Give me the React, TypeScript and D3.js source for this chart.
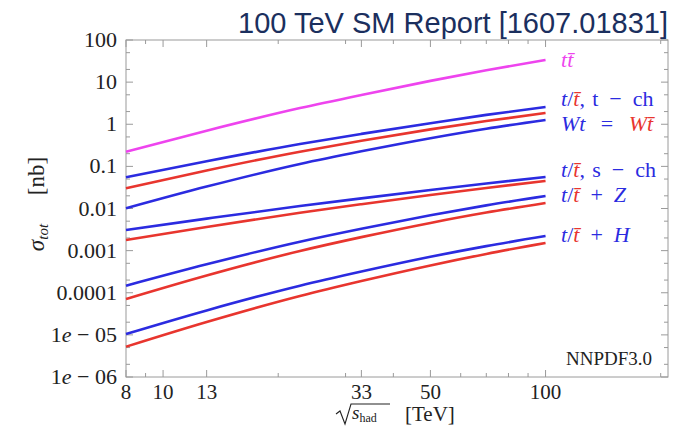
import React from 'react';
import * as d3 from 'd3';

const energies = [8, 13, 22.8, 33, 50, 70, 100];
const ttbar = [0.223, 0.703, 2.42, 4.97, 10.7, 19.1, 33.5];
const tChTop = [0.0551, 0.132, 0.34, 0.59, 1.06, 1.67, 2.57];
const tChAnti = [0.0302, 0.0798, 0.223, 0.405, 0.755, 1.19, 1.85];
const wt = [0.0101, 0.0331, 0.114, 0.228, 0.467, 0.784, 1.26];
const sChTop = [0.00309, 0.00575, 0.01146, 0.0174, 0.0275, 0.0392, 0.056];
const sChAnti = [0.00179, 0.00365, 0.00794, 0.01265, 0.0209, 0.0307, 0.045];
const tZTop = [1.47e-4, 4.73e-4, 1.63e-3, 3.31e-3, 6.89e-3, 0.01186, 0.0198];
const tZAnti = [7.11e-5, 2.57e-4, 9.8e-4, 2.09e-3, 4.55e-3, 8.0e-3, 0.01352];
const tHTop = [1.05e-5, 3.81e-5, 1.47e-4, 3.18e-4, 7.13e-4, 1.28e-3, 2.22e-3];
const tHAnti = [5.24e-6, 2.02e-5, 8.37e-5, 1.9e-4, 4.46e-4, 8.36e-4, 1.52e-3];

const xTicksLabeled = [8, 10, 13, 33, 50, 100];
const xTicksMinor = [9, 20, 30, 40, 60, 70, 80, 90, 200];
const yDecades = [100, 10, 1, 0.1, 0.01, 0.001, 0.0001, 1e-5, 1e-6];
const yDecadeLabels = ['100', '10', '1', '0.1', '0.01', '0.001', '0.0001', '1e-05', '1e-06'];

const BLUE = '#2b2be0';
const RED = '#e8352e';
const MAGENTA = '#ee44ee';
const SERIF = '"Liberation Serif", "DejaVu Serif", serif';

const series = [
  { name: 'tt', values: ttbar, color: MAGENTA },
  { name: 'tch-t', values: tChTop, color: BLUE },
  { name: 'tch-tbar', values: tChAnti, color: RED },
  { name: 'wt', values: wt, color: BLUE },
  { name: 'sch-t', values: sChTop, color: BLUE },
  { name: 'sch-tbar', values: sChAnti, color: RED },
  { name: 'tz-t', values: tZTop, color: BLUE },
  { name: 'tz-tbar', values: tZAnti, color: RED },
  { name: 'th-t', values: tHTop, color: BLUE },
  { name: 'th-tbar', values: tHAnti, color: RED },
];

const L = 126, R = 668, T = 40, B = 377;
const EN = '\u2002';
const MED = '\u2002\u2009';

export default function App() {
  const x = d3.scaleLog().domain([8, 209]).range([L, R]);
  const y = d3.scaleLog().domain([1e-6, 100]).range([B, T]);
  const line = d3
    .line<[number, number]>()
    .x((d) => x(d[0]))
    .y((d) => y(d[1]))
    .curve(d3.curveMonotoneX);

  const yMinor: number[] = [];
  yDecades.slice(1).forEach((d) => {
    yMinor.push(d * 2, d * 5);
  });

  const tbar = 't\u0304';

  return (
    <svg width={677} height={430} style={{ position: 'absolute', left: 0, top: 0, background: '#fff' }}>
      <rect x={0} y={0} width={677} height={430} fill="#fff" />
      <text x={668} y={33} textAnchor="end" fontFamily='"Liberation Sans", Arial, sans-serif' fontSize={29} fill="#1b2f5e">
        100 TeV SM Report [1607.01831]
      </text>

      {/* frame */}
      <rect x={L} y={T} width={R - L} height={B - T} fill="none" stroke="#9a9a9a" strokeWidth={1} />

      {/* y ticks */}
      {yDecades.map((d) => (
        <g key={'yd' + d}>
          <line x1={L} x2={L + 7} y1={y(d)} y2={y(d)} stroke="#9a9a9a" />
          <line x1={R} x2={R - 7} y1={y(d)} y2={y(d)} stroke="#9a9a9a" />
        </g>
      ))}
      {yMinor.map((d) => (
        <g key={'ym' + d}>
          <line x1={L} x2={L + 4} y1={y(d)} y2={y(d)} stroke="#9a9a9a" />
          <line x1={R} x2={R - 4} y1={y(d)} y2={y(d)} stroke="#9a9a9a" />
        </g>
      ))}
      {/* x ticks */}
      {xTicksLabeled.map((d) => (
        <g key={'xl' + d}>
          <line x1={x(d)} x2={x(d)} y1={B} y2={B - 7} stroke="#9a9a9a" />
          <line x1={x(d)} x2={x(d)} y1={T} y2={T + 7} stroke="#9a9a9a" />
        </g>
      ))}
      {xTicksMinor.map((d) => (
        <g key={'xm' + d}>
          <line x1={x(d)} x2={x(d)} y1={B} y2={B - 4} stroke="#9a9a9a" />
          <line x1={x(d)} x2={x(d)} y1={T} y2={T + 4} stroke="#9a9a9a" />
        </g>
      ))}

      {/* y tick labels */}
      {yDecades.map((d, i) => {
        const lab = yDecadeLabels[i];
        const yy = y(d) + 7;
        if (lab.includes('e')) {
          const [m, ex] = lab.split('e');
          return (
            <text key={'yl' + d} x={117} y={yy} textAnchor="end" fontFamily={SERIF} fontSize={22} fill="#222">
              {m}
              <tspan fontStyle="italic">e</tspan>
              {' \u2212 ' + ex.replace('-', '')}
            </text>
          );
        }
        return (
          <text key={'yl' + d} x={117} y={yy} textAnchor="end" fontFamily={SERIF} fontSize={22} fill="#222">
            {lab}
          </text>
        );
      })}

      {/* x tick labels */}
      {xTicksLabeled.map((d) => (
        <text key={'xt' + d} x={x(d)} y={399} textAnchor="middle" fontFamily={SERIF} fontSize={21} fill="#222">
          {d}
        </text>
      ))}

      {/* curves */}
      {series.map((s) => (
        <path
          key={s.name}
          d={line(energies.map((e, i) => [e, s.values[i]] as [number, number])) || ''}
          fill="none"
          stroke={s.color}
          strokeWidth={2.6}
        />
      ))}

      {/* labels */}
      <g fontFamily={SERIF} fontSize={22}>
        <text x={561} y={67} fill={MAGENTA} fontStyle="italic">
          t{tbar}
        </text>
        <text x={561} y={106} fill={BLUE}>
          <tspan fontStyle="italic">t</tspan>/<tspan fontStyle="italic" fill={RED}>{tbar}</tspan>,{'\u2004'}t{EN}{'\u2212'}{EN}ch
        </text>
        <text x={561} y={131} fill={BLUE}>
          <tspan fontStyle="italic">Wt</tspan>{MED}={MED}<tspan fontStyle="italic" fill={RED}>W{tbar}</tspan>
        </text>
        <text x={561} y={177} fill={BLUE}>
          <tspan fontStyle="italic">t</tspan>/<tspan fontStyle="italic" fill={RED}>{tbar}</tspan>,{'\u2004'}s{EN}{'\u2212'}{EN}ch
        </text>
        <text x={561} y={202} fill={BLUE}>
          <tspan fontStyle="italic">t</tspan>/<tspan fontStyle="italic" fill={RED}>{tbar}</tspan>{EN}+{EN}<tspan fontStyle="italic">Z</tspan>
        </text>
        <text x={561} y={242} fill={BLUE}>
          <tspan fontStyle="italic">t</tspan>/<tspan fontStyle="italic" fill={RED}>{tbar}</tspan>{EN}+{EN}<tspan fontStyle="italic">H</tspan>
        </text>
      </g>

      <text x={652} y={365} textAnchor="end" fontFamily={SERIF} fontSize={19} fill="#222">
        NNPDF3.0
      </text>

      {/* y axis title */}
      <g transform="translate(44,204) rotate(-90)">
        <text x={0} y={0} textAnchor="middle" fontFamily={SERIF} fontSize={23} fill="#222">
          <tspan fontStyle="italic">σ</tspan>
          <tspan fontStyle="italic" fontSize={15} dy={4}>tot</tspan>
          <tspan dy={-4}>{'\u2003 [nb]'}</tspan>
        </text>
      </g>

      {/* x axis title */}
      <path d="M336,414 L340,411 L345,424 L351,404 L390,404" fill="none" stroke="#222" strokeWidth={1.1} />
      <text x={352} y={419} fontFamily={SERIF} fontSize={19} fill="#222">
        <tspan fontStyle="italic">s</tspan>
        <tspan fontSize={12} dy={3}>had</tspan>
      </text>
      <text x={405} y={421} fontFamily={SERIF} fontSize={21} fill="#222">
        [TeV]
      </text>
    </svg>
  );
}
